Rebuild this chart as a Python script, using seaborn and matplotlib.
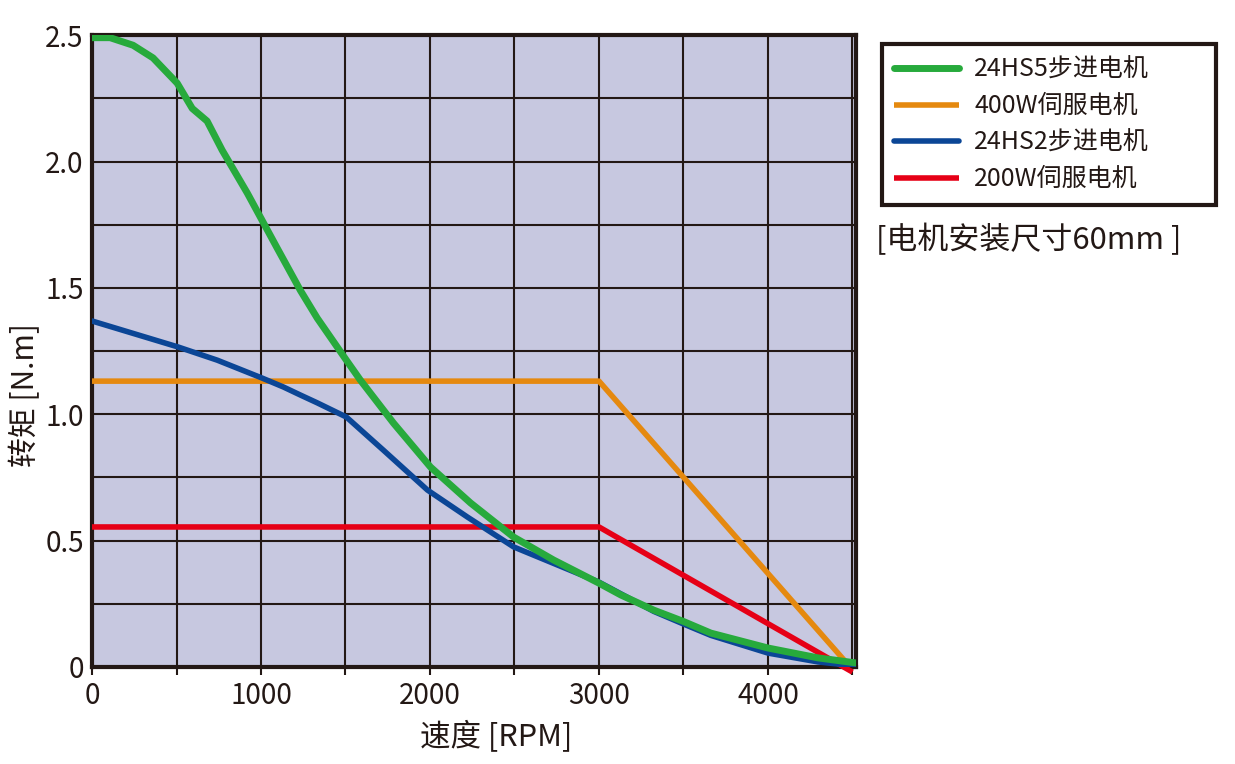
import matplotlib
matplotlib.use("Agg")
import pandas as pd
import matplotlib.pyplot as plt
import seaborn as sns
from matplotlib.ticker import MultipleLocator

# torque-speed curves
speed_hs5 = [0, 107, 243, 361, 504, 593, 681, 770, 919, 1096, 1233, 1333, 1505,
             1588, 1784, 2003, 2240, 2495, 2732, 2999, 3129, 3324, 3500, 3662,
             4000, 4296, 4520]
torque_hs5 = [2.49, 2.49, 2.46, 2.41, 2.31, 2.21, 2.16, 2.045, 1.875, 1.657, 1.49,
              1.38, 1.214, 1.135, 0.965, 0.791, 0.649, 0.514, 0.423, 0.332, 0.285,
              0.225, 0.18, 0.134, 0.075, 0.036, 0.016]

speed_hs2 = [0, 510, 741, 1007, 1132, 1233, 1333, 1505, 1724, 1985, 2222, 2495,
             2999, 3324, 3500, 3662, 4000, 4296, 4520]
torque_hs2 = [1.369, 1.266, 1.214, 1.143, 1.108, 1.076, 1.045, 0.989, 0.858, 0.700,
              0.593, 0.475, 0.336, 0.22, 0.17, 0.125, 0.055, 0.02, 0.004]

speed_400w = [0, 3000, 4460]
torque_400w = [1.131, 1.131, 0.02]

speed_200w = [0, 3000, 4500]
torque_200w = [0.554, 0.554, -0.02]

labels = ["24HS5步进电机", "400W伺服电机", "24HS2步进电机", "200W伺服电机"]
colors = ["#27aa3c", "#e5890f", "#0b4696", "#e60016"]

sns.set_style("white")
plt.rcParams["font.family"] = ["Noto Sans CJK SC", "DejaVu Sans"]

fig = plt.figure(figsize=(12.35, 7.64), dpi=100)
ax = fig.add_axes([0.0745, 0.127, 0.6185, 0.827])
ax.set_facecolor("#c7c8e0")

ink = "#231815"
# draw order: red, orange, blue, green on top
sns.lineplot(x=speed_200w, y=torque_200w, color=colors[3], lw=4.0, ax=ax,
             zorder=3, clip_on=False, solid_capstyle="butt")
sns.lineplot(x=speed_400w, y=torque_400w, color=colors[1], lw=4.0, ax=ax,
             zorder=4, solid_capstyle="butt")
sns.lineplot(x=speed_hs2, y=torque_hs2, color=colors[2], lw=4.0, ax=ax,
             zorder=5, sort=False)
sns.lineplot(x=speed_hs5, y=torque_hs5, color=colors[0], lw=5.0, ax=ax,
             zorder=6, sort=False)

ax.set_xlim(0, 4520)
ax.set_ylim(0, 2.5)
ax.xaxis.set_major_locator(MultipleLocator(1000))
ax.xaxis.set_minor_locator(MultipleLocator(500))
ax.yaxis.set_minor_locator(MultipleLocator(0.25))
ax.set_yticks([0, 0.5, 1.0, 1.5, 2.0, 2.5])
ax.set_yticklabels(["0", "0.5", "1.0", "1.5", "2.0", "2.5"])
ax.grid(True, which="both", color=ink, lw=1.5, zorder=1)
ax.set_axisbelow(True)
for s in ax.spines.values():
    s.set_color(ink)
    s.set_linewidth(3)

ax.tick_params(axis="x", which="both", length=6, width=1.5, color=ink,
               labelsize=20, labelcolor=ink, pad=4, direction="out", bottom=True)
ax.tick_params(axis="y", which="both", length=0, labelsize=20, labelcolor=ink, pad=6)

ax.set_xlabel("速度 [RPM]", fontsize=22, color=ink)
ax.xaxis.set_label_coords(0.529, -0.085)
ax.set_ylabel("转矩 [N.m]", fontsize=21.5, color=ink)
ax.yaxis.set_label_coords(-0.066, 0.43)

handles = [ax.lines[3], ax.lines[1], ax.lines[2], ax.lines[0]]
leg = fig.legend(handles, labels, loc="upper left",
                 bbox_to_anchor=(0.714, 0.738, 0.271, 0.204), mode="expand",
                 fontsize=18, frameon=True, fancybox=False, framealpha=1,
                 handlelength=2.6, handletextpad=0.6, labelspacing=0.42,
                 borderpad=0.5, borderaxespad=0)
leg.get_frame().set_edgecolor(ink)
leg.get_frame().set_linewidth(3)
for t in leg.get_texts():
    t.set_color(ink)

fig.text(876 / 1235, 1 - 240 / 764, "[电机安装尺寸60mm ]", fontsize=22.3,
         color=ink, va="center", ha="left")

fig.savefig("out.png", dpi=100, facecolor="white")
